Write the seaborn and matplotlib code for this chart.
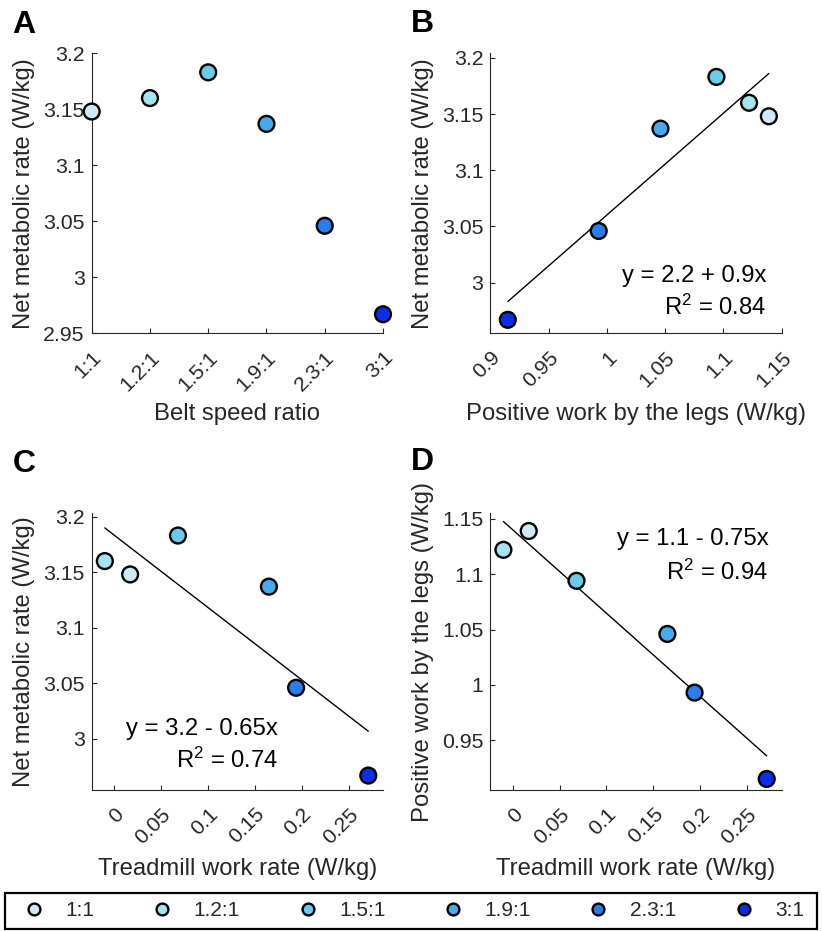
import numpy as np
import pandas as pd
import seaborn as sns
import matplotlib.pyplot as plt
from matplotlib.lines import Line2D
from matplotlib.patches import Rectangle
from matplotlib.ticker import FuncFormatter, MultipleLocator

# belt speed ratios and their colours
ratios = ['1:1', '1.2:1', '1.5:1', '1.9:1', '2.3:1', '3:1']
colors = ['#cfe9f7', '#a7e3ee', '#6ccbeb', '#4aa9ea', '#2b7deb', '#0b2ee6']

# values
met_rate = [3.148, 3.160, 3.183, 3.137, 3.046, 2.967]      # W/kg
leg_work = [1.139, 1.122, 1.094, 1.046, 0.993, 0.915]      # W/kg
tread_work = [0.017, -0.010, 0.068, 0.165, 0.194, 0.271]   # W/kg

eq_b = ['y = 2.2 + 0.9x', 'R$^{2}$ = 0.84']
eq_c = ['y = 3.2 - 0.65x', 'R$^{2}$ = 0.74']
eq_d = ['y = 1.1 - 0.75x', 'R$^{2}$ = 0.94']

df = pd.DataFrame({'ratio': ratios, 'met': met_rate,
                   'leg': leg_work, 'tread': tread_work})
pal = dict(zip(ratios, colors))

sns.set_theme(style='ticks')
plt.rcParams['font.family'] = ['Liberation Sans', 'DejaVu Sans']
plt.rcParams['mathtext.fontset'] = 'custom'
plt.rcParams['mathtext.rm'] = 'Liberation Sans'
plt.rcParams['mathtext.it'] = 'Liberation Sans:italic'

W, H = 822, 931
fig = plt.figure(figsize=(W / 100, H / 100), dpi=100)


def px_axes(l, t, r, b):
    return fig.add_axes([l / W, 1 - b / H, (r - l) / W, (b - t) / H])


axA = px_axes(91.7, 53.3, 383.0, 333.3)
axB = px_axes(490.3, 53.3, 781.7, 333.3)
axC = px_axes(91.7, 513.3, 383.3, 790.0)
axD = px_axes(490.3, 513.3, 781.7, 790.0)

ink = '#262626'
tick_fs = 15.3
lab_fs = 17.2
fmt = FuncFormatter(lambda v, p: '%g' % round(v, 4))


def dots(ax, x, y):
    sns.scatterplot(data=df, x=x, y=y, hue='ratio', palette=pal, legend=False,
                    s=130, edgecolor='black', linewidth=1.7, clip_on=False,
                    zorder=5, ax=ax)


def fit(ax, x, y):
    sns.regplot(data=df, x=x, y=y, scatter=False, ci=None, truncate=True,
                color='black', line_kws={'lw': 1.0}, ax=ax)


def style(ax, xlabel, ylabel, label_px):
    ax.set_xlabel(xlabel, fontsize=lab_fs, color=ink, va='baseline')
    h = ax.get_position().height * H
    ax.xaxis.set_label_coords(0.5, -label_px / h)
    ax.set_ylabel(ylabel, fontsize=lab_fs, color=ink, labelpad=6)
    ax.tick_params(direction='in', length=3.5, width=0.8, colors=ink,
                   labelsize=tick_fs, pad=5)
    ax.tick_params(axis='x', pad=10.5)
    for s in ['left', 'bottom']:
        ax.spines[s].set_linewidth(0.8)
        ax.spines[s].set_color(ink)
    sns.despine(ax=ax)
    for lab in ax.get_xticklabels():
        lab.set_rotation(45)
        lab.set_ha('right')
        lab.set_rotation_mode('anchor')


def eq(ax, lines, x, y1, y2):
    ax.text(x, y1, lines[0], transform=ax.transAxes, ha='right',
            va='baseline', fontsize=lab_fs, color='black')
    ax.text(x, y2, lines[1], transform=ax.transAxes, ha='right',
            va='baseline', fontsize=lab_fs, color='black')


# A
dots(axA, 'ratio', 'met')
axA.set_xlim(0, 5)
axA.set_ylim(2.95, 3.2)
axA.yaxis.set_major_locator(MultipleLocator(0.05))
axA.yaxis.set_major_formatter(fmt)
style(axA, 'Belt speed ratio', 'Net metabolic rate (W/kg)', 87)

# B
fit(axB, 'leg', 'met')
dots(axB, 'leg', 'met')
axB.set_xlim(0.9, 1.15)
axB.set_ylim(2.955, 3.204)
axB.xaxis.set_major_locator(MultipleLocator(0.05))
axB.yaxis.set_major_locator(MultipleLocator(0.05))
axB.xaxis.set_major_formatter(fmt)
axB.yaxis.set_major_formatter(fmt)
style(axB, 'Positive work by the legs (W/kg)', 'Net metabolic rate (W/kg)', 87)
eq(axB, eq_b, 0.948, 0.183, 0.065)

# C
fit(axC, 'tread', 'met')
dots(axC, 'tread', 'met')
axC.set_xlim(-0.024, 0.287)
axC.set_ylim(2.954, 3.203)
axC.xaxis.set_major_locator(MultipleLocator(0.05))
axC.yaxis.set_major_locator(MultipleLocator(0.05))
axC.xaxis.set_major_formatter(fmt)
axC.yaxis.set_major_formatter(fmt)
style(axC, 'Treadmill work rate (W/kg)', 'Net metabolic rate (W/kg)', 85)
eq(axC, eq_c, 0.64, 0.199, 0.080)

# D
fit(axD, 'tread', 'leg')
dots(axD, 'tread', 'leg')
axD.set_xlim(-0.024, 0.287)
axD.set_ylim(0.905, 1.155)
axD.xaxis.set_major_locator(MultipleLocator(0.05))
axD.yaxis.set_major_locator(MultipleLocator(0.05))
axD.xaxis.set_major_formatter(fmt)
axD.yaxis.set_major_formatter(fmt)
style(axD, 'Treadmill work rate (W/kg)', 'Positive work by the legs (W/kg)', 85)
eq(axD, eq_d, 0.955, 0.885, 0.759)

# panel letters
for letter, (x, y) in zip('ABCD', [(12, 33), (411, 32), (13, 472), (411, 470)]):
    fig.text(x / W, 1 - y / H, letter, fontsize=23, fontweight='bold',
             ha='left', va='baseline', color='black')

# shared legend along the bottom, with a plain box drawn round it
handles = [Line2D([], [], ls='none', marker='o', markersize=8.5,
                  markerfacecolor=c, markeredgecolor='black',
                  markeredgewidth=1.7) for c in colors]
leg = fig.legend(handles, ratios, loc='center',
                 bbox_to_anchor=(24 / W, 1 - 911 / H, 780 / W, 0),
                 mode='expand', ncol=6, fontsize=15, frameon=False,
                 handlelength=1.0, handletextpad=1.0, borderaxespad=0,
                 borderpad=0)
for t in leg.get_texts():
    t.set_color(ink)
fig.patches.append(Rectangle((5 / W, 1 - 929 / H), 812 / W, 36 / H,
                             transform=fig.transFigure, fill=False,
                             edgecolor='black', lw=1.6))

fig.savefig('out.png', dpi=100)
